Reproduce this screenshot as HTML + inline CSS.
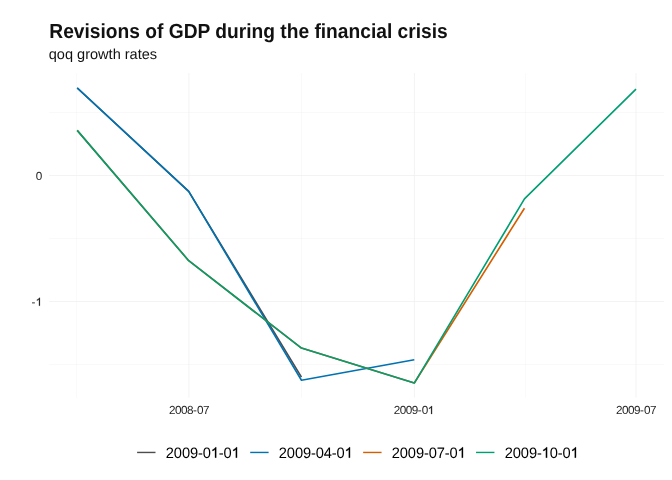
<!DOCTYPE html>
<html><head><meta charset="utf-8"><title>Revisions of GDP during the financial crisis</title>
<style>
html,body{margin:0;padding:0;background:#fff;}
body{width:672px;height:480px;overflow:hidden;font-family:"Liberation Sans",sans-serif;}
svg{display:block;will-change:transform;}
text{font-family:"Liberation Sans",sans-serif;text-rendering:geometricPrecision;}
</style></head><body>
<svg width="672" height="480" viewBox="0 0 672 480">
<rect width="672" height="480" fill="#ffffff"/>
<g stroke="#EEEEEE" fill="none" stroke-linecap="butt">
<g stroke-width="0.355">
<path d="M49.1 112.5H663.9M49.1 238.5H663.9M49.1 364.5H663.9"/>
<path d="M76.55 73.0V397.7M301.5 73.0V397.7M525.45 73.0V397.7"/>
</g>
<g stroke-width="0.71">
<path d="M49.1 175.5H663.9M49.1 301.5H663.9"/>
<path d="M188.9 73.0V397.7M414.4 73.0V397.7M636.0 73.0V397.7"/>
</g>
</g>
<g fill="none" stroke-width="1.62" stroke-linejoin="round" stroke-linecap="butt">
<polyline stroke="#4D4D4D" points="77.20,88.00 188.70,191.45 301.45,377.20"/>
<polyline stroke="#0072B2" points="77.20,87.90 188.70,191.35 301.45,380.25 414.30,359.70"/>
<polyline stroke="#D55E00" points="77.20,130.40 188.70,260.70 301.45,348.10 414.30,383.05 524.45,208.20"/>
<polyline stroke="#009E73" points="77.20,130.40 188.70,260.70 301.45,348.10 414.30,383.05 524.45,198.95 636.00,89.20"/>
</g>
<g fill="#111111">
<text transform="translate(49.3 37.87) scale(1 1.066)" font-size="19.2" font-weight="bold">Revisions of GDP during the financial crisis</text>
<text transform="translate(48.75 59.0) scale(1 1)" font-size="14.55">qoq growth rates</text>
</g>
<g fill="#262626" color="#262626">
<g transform="translate(41.8 179.75) scale(1 1.0)"><text font-size="11.73"><tspan x="-6.000">0</tspan></text></g>
<g transform="translate(41.6 305.75) scale(1 1.0)"><path transform="translate(-6.000 0) scale(0.005728 -0.005498)" d="M763 0H583V1147Q518 1085 412.5 1023Q307 961 223 930V1104Q374 1175 487 1276Q600 1377 647 1472H763Z" stroke="currentColor" stroke-width="30"/><text font-size="11.73"><tspan x="-10.000">-</tspan></text></g>
<g transform="translate(189.0 414.05) scale(1 1.0)"><text font-size="11.73"><tspan x="-20.000">2</tspan><tspan x="-14.000">0</tspan><tspan x="-8.000">0</tspan><tspan x="-2.000">8</tspan><tspan x="4.000">-</tspan><tspan x="8.000">0</tspan><tspan x="14.000">7</tspan></text></g>
<g transform="translate(413.7 414.05) scale(1 1.0)"><path transform="translate(14.000 0) scale(0.005728 -0.005498)" d="M763 0H583V1147Q518 1085 412.5 1023Q307 961 223 930V1104Q374 1175 487 1276Q600 1377 647 1472H763Z" stroke="currentColor" stroke-width="30"/><text font-size="11.73"><tspan x="-20.000">2</tspan><tspan x="-14.000">0</tspan><tspan x="-8.000">0</tspan><tspan x="-2.000">9</tspan><tspan x="4.000">-</tspan><tspan x="8.000">0</tspan></text></g>
<g transform="translate(635.9 414.05) scale(1 1.0)"><text font-size="11.73"><tspan x="-20.000">2</tspan><tspan x="-14.000">0</tspan><tspan x="-8.000">0</tspan><tspan x="-2.000">9</tspan><tspan x="4.000">-</tspan><tspan x="8.000">0</tspan><tspan x="14.000">7</tspan></text></g>
</g>
<g stroke-width="1.42" fill="none">
<path stroke="#4D4D4D" d="M137.1 452.45H155.5"/>
<path stroke="#0072B2" d="M250.2 452.45H268.6"/>
<path stroke="#D55E00" d="M363.15 452.45H381.55"/>
<path stroke="#009E73" d="M476.05 452.45H494.45"/>
</g>
<g fill="#000000" color="#000000">
<g transform="translate(165.8 457.65) scale(1 1.03)"><path transform="translate(45.000 0) scale(0.007163 -0.006877)" d="M763 0H583V1147Q518 1085 412.5 1023Q307 961 223 930V1104Q374 1175 487 1276Q600 1377 647 1472H763Z" stroke="currentColor" stroke-width="30"/><path transform="translate(65.820 0) scale(0.007163 -0.006877)" d="M763 0H583V1147Q518 1085 412.5 1023Q307 961 223 930V1104Q374 1175 487 1276Q600 1377 647 1472H763Z" stroke="currentColor" stroke-width="30"/><text font-size="14.67"><tspan x="0.000">2</tspan><tspan x="8.060">0</tspan><tspan x="16.120">0</tspan><tspan x="24.180">9</tspan><tspan x="32.240">-</tspan><tspan x="36.940">0</tspan><tspan x="53.060">-</tspan><tspan x="57.760">0</tspan></text></g>
<g transform="translate(278.78000000000003 457.65) scale(1 1.03)"><path transform="translate(65.820 0) scale(0.007163 -0.006877)" d="M763 0H583V1147Q518 1085 412.5 1023Q307 961 223 930V1104Q374 1175 487 1276Q600 1377 647 1472H763Z" stroke="currentColor" stroke-width="30"/><text font-size="14.67"><tspan x="0.000">2</tspan><tspan x="8.060">0</tspan><tspan x="16.120">0</tspan><tspan x="24.180">9</tspan><tspan x="32.240">-</tspan><tspan x="36.940">0</tspan><tspan x="45.000">4</tspan><tspan x="53.060">-</tspan><tspan x="57.760">0</tspan></text></g>
<g transform="translate(391.76 457.65) scale(1 1.03)"><path transform="translate(65.820 0) scale(0.007163 -0.006877)" d="M763 0H583V1147Q518 1085 412.5 1023Q307 961 223 930V1104Q374 1175 487 1276Q600 1377 647 1472H763Z" stroke="currentColor" stroke-width="30"/><text font-size="14.67"><tspan x="0.000">2</tspan><tspan x="8.060">0</tspan><tspan x="16.120">0</tspan><tspan x="24.180">9</tspan><tspan x="32.240">-</tspan><tspan x="36.940">0</tspan><tspan x="45.000">7</tspan><tspan x="53.060">-</tspan><tspan x="57.760">0</tspan></text></g>
<g transform="translate(504.74 457.65) scale(1 1.03)"><path transform="translate(36.940 0) scale(0.007163 -0.006877)" d="M763 0H583V1147Q518 1085 412.5 1023Q307 961 223 930V1104Q374 1175 487 1276Q600 1377 647 1472H763Z" stroke="currentColor" stroke-width="30"/><path transform="translate(65.820 0) scale(0.007163 -0.006877)" d="M763 0H583V1147Q518 1085 412.5 1023Q307 961 223 930V1104Q374 1175 487 1276Q600 1377 647 1472H763Z" stroke="currentColor" stroke-width="30"/><text font-size="14.67"><tspan x="0.000">2</tspan><tspan x="8.060">0</tspan><tspan x="16.120">0</tspan><tspan x="24.180">9</tspan><tspan x="32.240">-</tspan><tspan x="45.000">0</tspan><tspan x="53.060">-</tspan><tspan x="57.760">0</tspan></text></g>
</g>
</svg>
</body></html>
